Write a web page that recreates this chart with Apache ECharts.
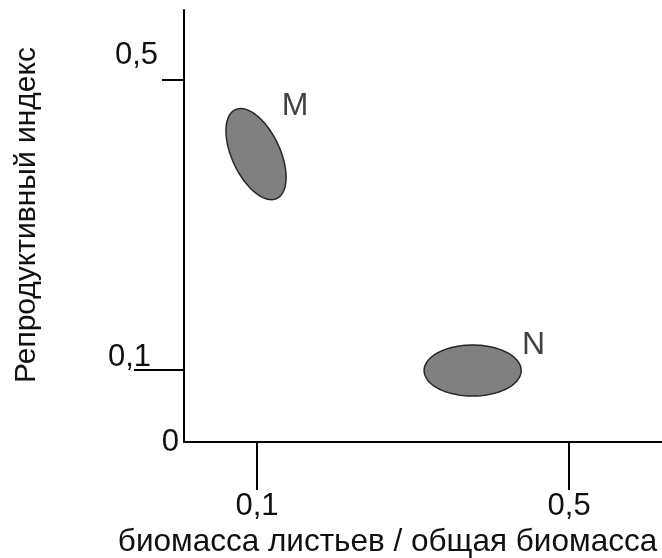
<!DOCTYPE html>
<html><head><meta charset="utf-8">
<script src="https://cdn.jsdelivr.net/npm/echarts@6/dist/echarts.min.js"></script>
<style>html,body{margin:0;padding:0;background:#fff}#c{width:662px;height:558px}</style>
</head><body><div id="c"></div>
<script>
// ---- data ----
const xTickValues = [0.1, 0.5];
const xTickLabels = ['0,1', '0,5'];
const yTickValues = [0.1, 0.5];
const yLabelValues = [0, 0.1, 0.5];
const yLabelTexts = ['0', '0,1', '0,5'];
const groupNames = ['M', 'N'];
const groupCenterX = [0.0987, 0.3763];
const groupCenterY = [0.3972, 0.0986];
const groupRadiusX = [0.0308, 0.0622];
const groupRadiusY = [0.0676, 0.0352];
const groupTiltDeg = [25, 0];
const groupLabelX = [0.1487, 0.4545];
const groupLabelY = [0.463, 0.133];
const xAxisTitle = 'биомасса листьев / общая биомасса';
const yAxisTitle = 'Репродуктивный индекс';

const FONT = '"Liberation Sans", Arial, sans-serif';
const TXT = '#111';
function idxOf(arr, v) { return arr.findIndex(t => Math.abs(t - v) < 1e-9); }

const chart = echarts.init(document.getElementById('c'), null, { renderer: 'canvas' });
const ellipseData = groupNames.map((n, i) => [groupCenterX[i], groupCenterY[i], groupRadiusX[i], groupRadiusY[i], groupTiltDeg[i]]);
const labelData = groupNames.map((n, i) => [groupLabelX[i], groupLabelY[i], n]);

const yMin = 0, yMax = 0.596, xMin = 0.0064, xMax = 0.619;

chart.setOption({
  animation: false,
  backgroundColor: '#fff',
  grid: { left: 184, top: 10, right: 0, bottom: 116, containLabel: false, outerBoundsMode: 'none' },
  xAxis: {
    type: 'value', min: xMin, max: xMax,
    axisLine: { show: true, onZero: false, lineStyle: { color: '#000', width: 2 } },
    axisTick: { show: true, customValues: xTickValues, length: 48, lineStyle: { color: '#000', width: 2 } },
    axisLabel: {
      show: true, customValues: xTickValues, margin: 49,
      formatter: v => xTickLabels[idxOf(xTickValues, v)],
      fontSize: 31, color: TXT, fontFamily: FONT
    },
    splitLine: { show: false },
    name: xAxisTitle, nameLocation: 'middle', nameGap: 84, nameMoveOverlap: false,
    nameTextStyle: { fontSize: 31.5, color: TXT, fontFamily: FONT, padding: [0, 71, 0, 0] }
  },
  yAxis: [{
    type: 'value', min: yMin, max: yMax,
    axisLine: { show: true, onZero: false, lineStyle: { color: '#000', width: 2 } },
    axisTick: { show: true, customValues: [yTickValues[0]], length: 50, lineStyle: { color: '#000', width: 2 } },
    axisLabel: {
      show: true, customValues: yLabelValues, margin: 5,
      formatter: v => { const i = idxOf(yLabelValues, v); return '{r' + i + '|' + yLabelTexts[i] + '}'; },
      rich: {
        r0: { fontSize: 31, color: TXT, fontFamily: FONT, padding: [0, 0, 0, 0] },
        r1: { fontSize: 31, color: TXT, fontFamily: FONT, padding: [0, 28, 24, 0] },
        r2: { fontSize: 31, color: TXT, fontFamily: FONT, padding: [0, 21, 48, 0] }
      }
    },
    splitLine: { show: false },
    name: yAxisTitle, nameLocation: 'middle', nameGap: 142, nameRotate: 90, nameMoveOverlap: false,
    nameTextStyle: { fontSize: 30, color: TXT, fontFamily: FONT, padding: [0, 0, 0, 22] }
  }, {
    type: 'value', min: yMin, max: yMax, position: 'left',
    axisLine: { show: false },
    axisTick: { show: true, customValues: [yTickValues[1]], length: 22, lineStyle: { color: '#000', width: 2 } },
    axisLabel: { show: false },
    splitLine: { show: false }
  }],
  series: [{
    type: 'custom',
    coordinateSystem: 'cartesian2d',
    silent: true,
    data: ellipseData,
    encode: { x: 0, y: 1 },
    renderItem: function (params, api) {
      const c = api.coord([api.value(0), api.value(1)]);
      const s = api.size([api.value(2), api.value(3)]);
      const phi = -api.value(4) * Math.PI / 180;
      const pts = [];
      const N = 120;
      for (let k = 0; k < N; k++) {
        const t = 2 * Math.PI * k / N;
        const lx = s[0] * Math.cos(t), ly = s[1] * Math.sin(t);
        pts.push([c[0] + lx * Math.cos(phi) - ly * Math.sin(phi), c[1] + lx * Math.sin(phi) + ly * Math.cos(phi)]);
      }
      return { type: 'polygon', shape: { points: pts }, style: { fill: '#808080', stroke: '#262626', lineWidth: 1.5 } };
    }
  }, {
    type: 'scatter',
    silent: true,
    symbolSize: 0,
    data: labelData,
    encode: { x: 0, y: 1 },
    label: {
      show: true, position: 'inside',
      formatter: p => p.data[2],
      fontSize: 32, color: TXT, fontFamily: FONT
    }
  }]
});
</script>
</body></html>
